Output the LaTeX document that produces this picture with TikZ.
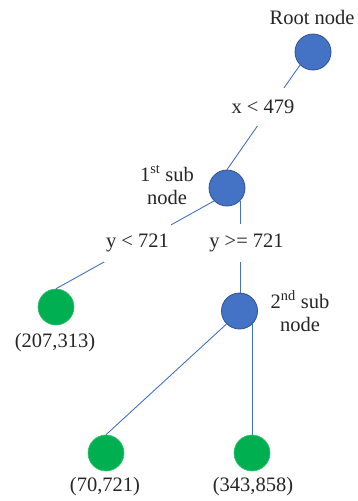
\documentclass[tikz,border=0pt]{standalone}
\usepackage{fontspec}
\setmainfont{Liberation Serif}
\definecolor{nodeblue}{HTML}{4472C4}
\definecolor{blueedge}{HTML}{2F528F}
\definecolor{leafgreen}{HTML}{00B050}
\definecolor{textgray}{HTML}{262626}
\begin{document}
\begin{tikzpicture}[x=1pt,y=-1pt,
  inner/.style={circle, fill=nodeblue, draw=blueedge, line width=0.8pt, minimum size=36pt, inner sep=0pt},
  leaf/.style={circle, fill=leafgreen, draw=leafgreen!80!white, line width=0.6pt, minimum size=36pt, inner sep=0pt},
  conn/.style={draw=nodeblue, line width=0.9pt},
  txt/.style={font=\fontsize{20.5}{23}\selectfont, text=textgray, inner sep=0pt, align=center},
  edgelbl/.style={txt, fill=white, minimum height=38pt, inner xsep=2pt}
]
\useasboundingbox (0,0) rectangle (357,501);
\node[inner] (root) at (313,52) {};
\node[inner] (n1) at (227,188) {};
\node[inner] (n2) at (239.5,311) {};
\node[leaf] (leaf1) at (56,307) {};
\node[leaf] (leaf2) at (106,453) {};
\node[leaf] (leaf3) at (252,453) {};

\draw[conn] (root.south west) -- (n1.north);
\draw[conn] (n1.south west) -- (leaf1.north);
\draw[conn] (n1.south east) -- (n1.south east |- n2.north);
\draw[conn] (n2.south west) -- (leaf2.north);
\draw[conn] (n2.south east) -- (n2.south east |- leaf3.north);

\node[edgelbl] (l1) at (263,107) {x < 479};
\node[edgelbl] (l2) at (137.5,243) {y < 721};
\node[edgelbl] (l3) at (246.5,243) {y >= 721};

\node[txt] (troot) at (312,17) {Root node};
\node[txt] (tn1) at (167,185) {1\textsuperscript{st} sub\\node};
\node[txt] (tn2) at (300,311) {2\textsuperscript{nd} sub\\node};
\node[txt] (tl1) at (55,343) {(207,313)};
\node[txt] (tl2) at (105,487) {(70,721)};
\node[txt] (tl3) at (253,487) {(343,858)};
\end{tikzpicture}
\end{document}
